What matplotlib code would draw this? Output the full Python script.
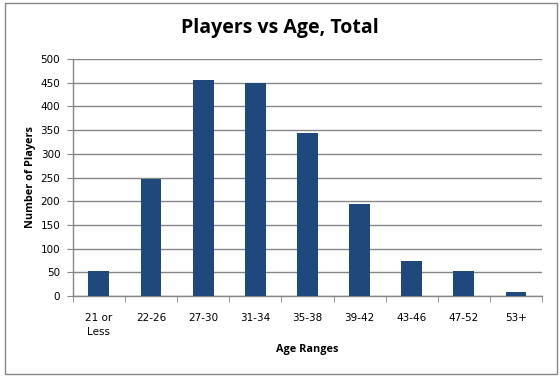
import matplotlib
matplotlib.use('Agg')
import matplotlib.pyplot as plt
from matplotlib.patches import Rectangle
import numpy as np

plt.rcParams['font.family'] = ['Open Sans', 'DejaVu Sans']

categories = ['21 or\nLess', '22-26', '27-30', '31-34', '35-38', '39-42', '43-46', '47-52', '53+']
players = [53, 247, 456, 450, 344, 194, 74, 53, 8]

fig = plt.figure(figsize=(5.6, 3.79), dpi=100)
ax = fig.add_axes([0.130, 0.219, 0.838, 0.625])

x = np.arange(len(categories))
ax.bar(x, players, width=0.4, color='#1f497d', zorder=3)

ax.set_xlim(-0.5, len(categories) - 0.5)
ax.set_ylim(0, 500)
ax.set_yticks(np.arange(0, 501, 50))
ax.set_yticklabels([str(v) for v in range(0, 501, 50)], family='DejaVu Sans', fontsize=7.5)
ax.tick_params(axis='y', length=4, color='#868686', direction='out', pad=5)
ax.set_xticks(x)
ax.set_xticklabels(categories, family='DejaVu Sans', fontsize=7.5, va='top', linespacing=1.55)
ax.set_xticks(np.arange(-0.5, len(categories)), minor=True)
ax.tick_params(axis='x', which='major', length=0, pad=12)
ax.tick_params(axis='x', which='minor', length=4, color='#868686', direction='out')

ax.grid(axis='y', color='#868686', linewidth=1, zorder=0)
for s in ['top', 'right']:
    ax.spines[s].set_visible(False)
for s in ['left', 'bottom']:
    ax.spines[s].set_color('#868686')
    ax.spines[s].set_linewidth(1)

ax.set_xlabel('Age Ranges', fontsize=7.8, fontweight='bold', va='top')
ax.xaxis.set_label_coords(0.5, -0.203)
ax.set_ylabel('Number of Players', fontsize=7.8, fontweight='bold')
ax.yaxis.set_label_coords(-0.078, 0.5)
fig.text(0.5, 0.925, 'Players vs Age, Total', fontsize=14, fontweight='bold',
         ha='center', va='center')

border = Rectangle((4.5 / 560, 5 / 379), 552 / 560, 371 / 379,
                   transform=fig.transFigure, facecolor='none', edgecolor='#868686',
                   linewidth=1, figure=fig)
fig.patches.append(border)

fig.savefig('out.png', dpi=100, facecolor='white')
